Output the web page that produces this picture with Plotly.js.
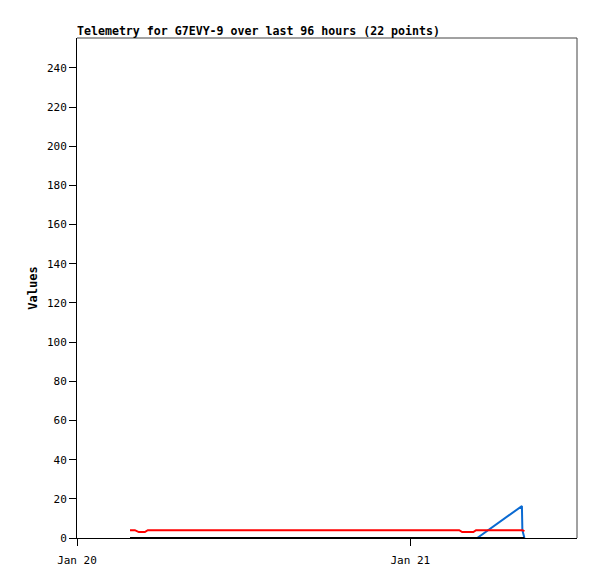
<!DOCTYPE html>
<html>
<head>
<meta charset="utf-8">
<script src="https://cdn.plot.ly/plotly-3.0.1.min.js"></script>
<style>html,body{margin:0;padding:0;background:#fff;}#chart{width:597px;height:579px;}</style>
</head>
<body>
<div id="chart"></div>
<script>
// Timestamps of the 22 telemetry points
var times = [
  '2021-01-20 03:49', '2021-01-20 04:10', '2021-01-20 04:27', '2021-01-20 04:53',
  '2021-01-20 05:06', '2021-01-20 06:30', '2021-01-20 09:00', '2021-01-20 12:00',
  '2021-01-20 15:00', '2021-01-20 18:00', '2021-01-20 21:00', '2021-01-21 00:00',
  '2021-01-21 02:00', '2021-01-21 03:31', '2021-01-21 03:44', '2021-01-21 04:32',
  '2021-01-21 04:44', '2021-01-21 04:49', '2021-01-21 06:30', '2021-01-21 08:02',
  '2021-01-21 08:04', '2021-01-21 08:13'
];
var redValues = [4, 4, 3, 3, 4, 4, 4, 4, 4, 4, 4, 4, 4, 4, 3, 3, 4, 4, 4, 4, 4, 3.5];
var blueValues = [null, null, null, null, null, null, null, null, null, null, null, null,
  null, null, null, null, null, 0, null, 16.3, 4, 0];
var blackValues = [0, 0, 0, 0, 0, 0, 0, 0, 0, 0, 0, 0, 0, 0, 0, 0, 0, 0, 0, 0, 0, 0];
var yTicks = [0, 20, 40, 60, 80, 100, 120, 140, 160, 180, 200, 220, 240];

var font = 'DejaVu Sans Mono, Liberation Mono, monospace';
var traces = [
  {x: times, y: blueValues, type: 'scatter', mode: 'lines', connectgaps: true,
   line: {color: '#0a6ad2', width: 2}},
  {x: times, y: redValues, type: 'scatter', mode: 'lines',
   line: {color: '#ff0000', width: 2}},
  {x: times, y: blackValues, type: 'scatter', mode: 'lines',
   line: {color: '#000000', width: 2}}
];
var layout = {
  width: 597, height: 579,
  margin: {l: 77, r: 20, t: 38, b: 41},
  paper_bgcolor: '#ffffff', plot_bgcolor: '#ffffff',
  showlegend: false,
  title: {text: '<b>Telemetry for G7EVY-9 over last 96 hours (22 points)</b>',
    x: 77/597, xanchor: 'left', y: 1 - 35/579, yanchor: 'bottom',
    font: {family: font, size: 11.6, color: '#000'}},
  xaxis: {type: 'date', range: ['2021-01-20 00:00', '2021-01-21 12:00'],
    tick0: '2021-01-20', dtick: 86400000, tickformat: '%b %d',
    showgrid: false, zeroline: false, showline: true, linecolor: '#000', linewidth: 1,
    ticks: 'outside', ticklen: 7, tickcolor: '#000', ticklabelstandoff: 5,
    tickfont: {family: font, size: 11, color: '#000'}},
  yaxis: {range: [0, 255.3], tickvals: yTicks, ticktext: yTicks.map(String),
    showgrid: false, zeroline: false, showline: true, linecolor: '#000', linewidth: 1,
    ticks: 'outside', ticklen: 7, tickcolor: '#000',
    tickfont: {family: font, size: 11, color: '#000'},
    title: {text: '<b>Values</b>', standoff: 6, font: {family: font, size: 12, color: '#000'}}},
  shapes: [
    {type: 'line', xref: 'paper', yref: 'paper', x0: 0, x1: 1, y0: 1, y1: 1,
     line: {color: '#444444', width: 1}},
    {type: 'line', xref: 'paper', yref: 'paper', x0: 1, x1: 1, y0: 0, y1: 1,
     line: {color: '#444444', width: 1}}
  ]
};
Plotly.newPlot('chart', traces, layout, {staticPlot: true, displayModeBar: false});
</script>
</body>
</html>
